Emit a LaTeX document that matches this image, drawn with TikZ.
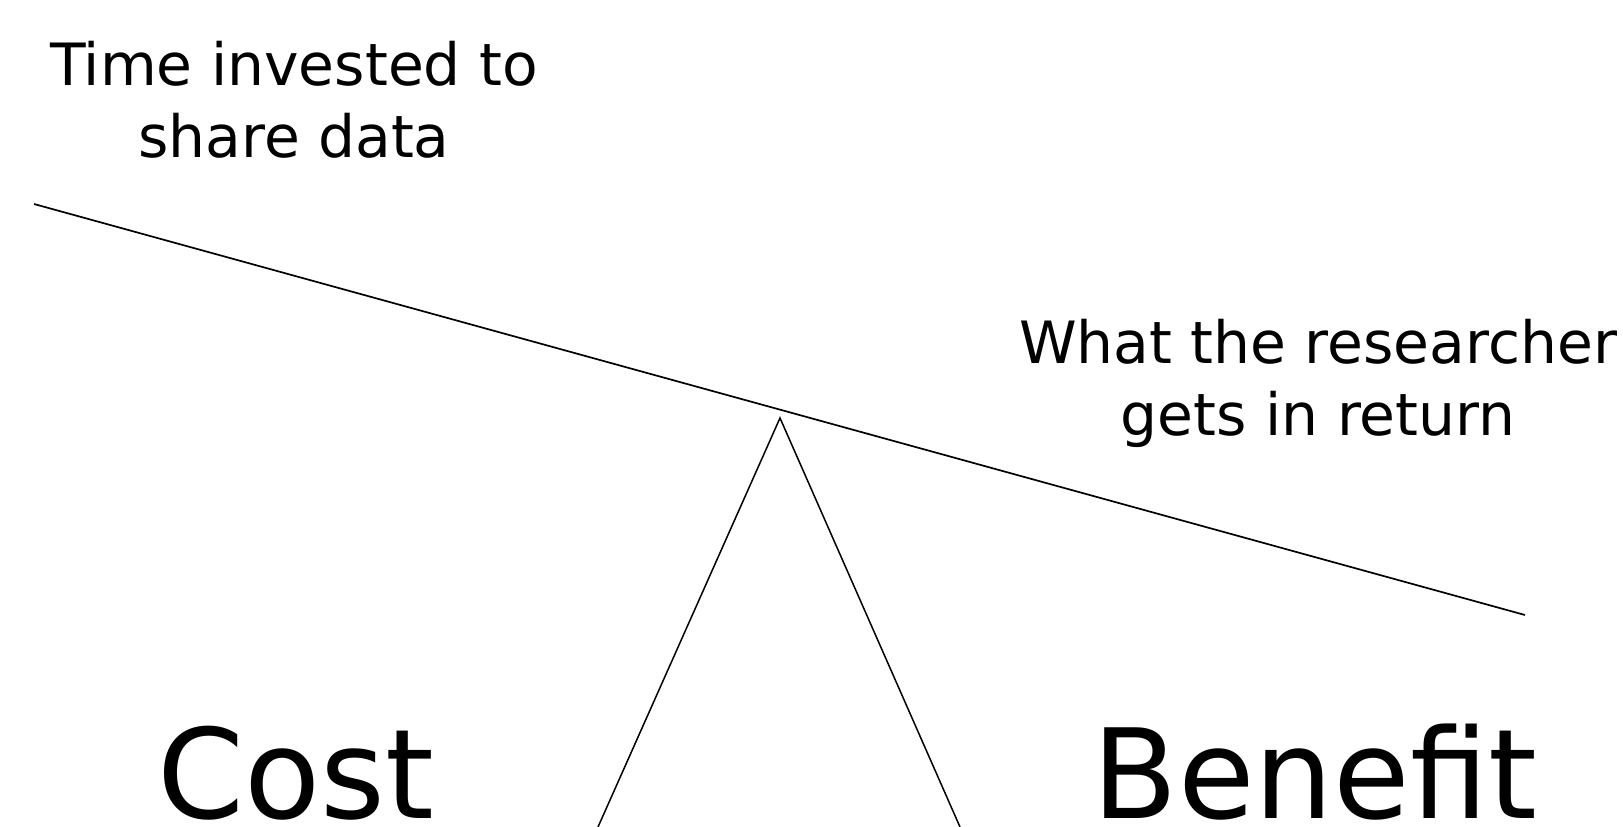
\documentclass[tikz,border=0pt]{standalone}
\usepackage{fontspec}
\setmainfont{DejaVu Sans}
\begin{document}
\begin{tikzpicture}[x=1pt,y=-1pt,
  label/.style={inner sep=0pt,align=center,font=\fontsize{58.3}{72}\selectfont},
  biglabel/.style={inner sep=0pt,font=\fontsize{124.5}{150}\selectfont},
  bar/.style={line width=1.7pt},
  leg/.style={line width=1.5pt}]
\useasboundingbox (0,0) rectangle (1623,827);
\clip (0,0) rectangle (1623,827);

% the balance beam and its pivot
\coordinate (beamL) at (34,204);
\coordinate (beamR) at (1525,615);
\coordinate (apex) at (780,418);
\coordinate (footL) at (598,827);
\coordinate (footR) at (960,827);
\draw[bar] (beamL) -- (beamR);
\draw[leg] (footL) -- (apex) -- (footR);

% captions (base anchor sits on the last line)
\node[label,anchor=base] (time) at (294,157) {Time invested to\\share data};
\node[label,anchor=base] (gain) at (1318,435) {What the researcher\\gets in return};
\node[biglabel,anchor=base] (cost) at (296,818) {Cost};
\node[biglabel,anchor=base] (benefit) at (1315,818) {Benefit};
\end{tikzpicture}
\end{document}
